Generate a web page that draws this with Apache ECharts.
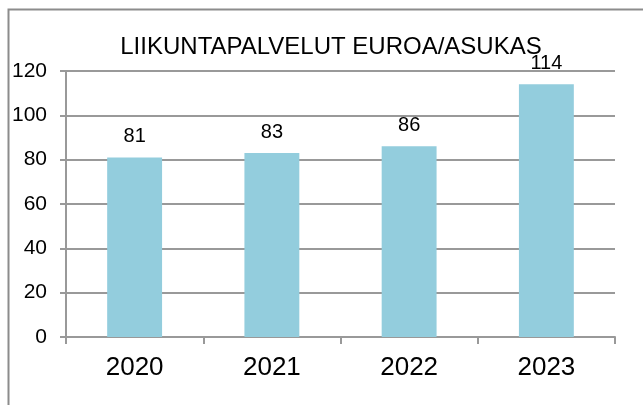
<!DOCTYPE html>
<html>
<head>
<meta charset="utf-8">
<script src="https://cdn.jsdelivr.net/npm/echarts@6/dist/echarts.min.js"></script>
<style>
html,body{margin:0;padding:0;background:#fff;}
#charts{width:643px;height:405px;}
</style>
</head>
<body>
<div id="charts"></div>
<script>
var years = ['2020', '2021', '2022', '2023'];
var euroPerResident = [81, 83, 86, 114];
var yTicks = [0, 20, 40, 60, 80, 100, 120];

var chartTitle = 'LIIKUNTAPALVELUT EUROA/ASUKAS';
var gridColor = '#999999';

function drawCharts(){
	var charts = echarts.init(document.getElementById('charts'));
	var options = {
		animation: false,
		textStyle: {
			fontFamily: 'Liberation Sans'
		},
		title: {
			text: chartTitle,
			left: 326,
			top: 30,
			textAlign: 'center',
			textStyle: {
				fontFamily: 'Liberation Sans',
				fontSize: 24,
				fontWeight: 'normal',
				color: '#000'
			}
		},
		graphic: [{
			type: 'rect',
			shape: {x: 8.5, y: 9.5, width: 800, height: 600},
			style: {fill: 'none', stroke: '#8c8c8c', lineWidth: 2},
			silent: true
		}],
		grid: {
			left: 66,
			right: 28,
			top: 71,
			bottom: 68
		},
		xAxis: {
			type: 'category',
			data: years,
			axisLine: {
				lineStyle: {color: gridColor, width: 2}
			},
			axisTick: {
				show: true,
				length: 7,
				lineStyle: {color: gridColor, width: 2}
			},
			axisLabel: {
				color: '#000',
				fontSize: 26,
				margin: 18
			}
		},
		yAxis: {
			type: 'value',
			min: yTicks[0],
			max: yTicks[yTicks.length - 1],
			interval: yTicks[1] - yTicks[0],
			axisLine: {
				show: true,
				lineStyle: {color: gridColor, width: 2}
			},
			axisTick: {
				show: true,
				length: 6,
				lineStyle: {color: gridColor, width: 2}
			},
			splitLine: {
				show: true,
				lineStyle: {color: gridColor, width: 2}
			},
			axisLabel: {
				color: '#000',
				fontSize: 21,
				margin: 19
			}
		},
		series: [{
			type: 'bar',
			data: euroPerResident,
			barWidth: '40%',
			itemStyle: {color: '#93CDDD'},
			label: {
				show: true,
				position: 'top',
				distance: 11,
				color: '#000',
				fontSize: 20
			}
		}]
	};
	charts.setOption(options);
}
drawCharts();
</script>
</body>
</html>
